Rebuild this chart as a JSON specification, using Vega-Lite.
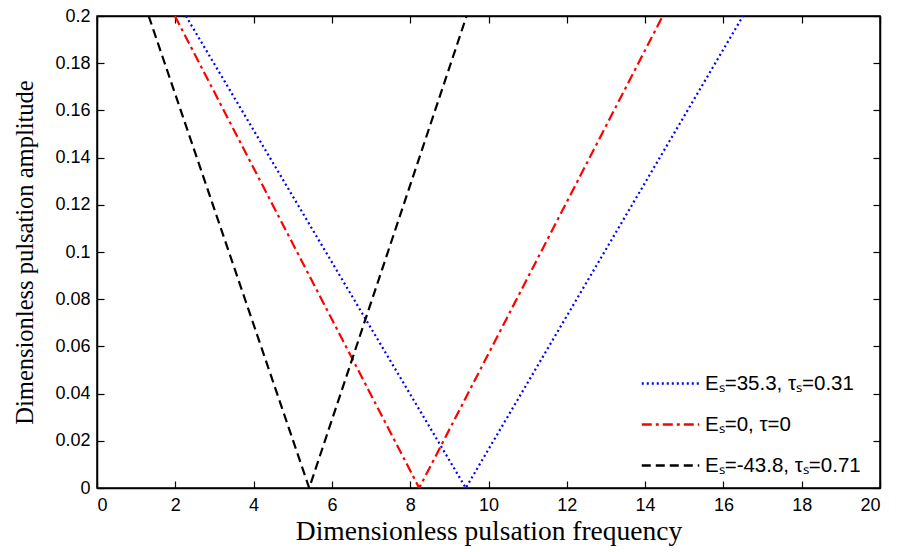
{
  "$schema": "https://vega.github.io/schema/vega-lite/v6.json",
  "width": 783,
  "height": 472,
  "autosize": {"type": "none"},
  "padding": {"left": 97, "top": 16, "right": 18, "bottom": 64},
  "background": "white",
  "config": {
    "view": {"stroke": "black", "strokeWidth": 1.5},
    "axis": {
      "grid": false,
      "domainColor": "black",
      "domainWidth": 1.5,
      "tickColor": "black",
      "tickWidth": 1.2,
      "tickSize": -7,
      "labelFont": "Liberation Sans",
      "labelFontSize": 18,
      "labelColor": "black",
      "titleFont": "Liberation Serif",
      "titleFontSize": 25,
      "titleFontWeight": "normal",
      "titleColor": "black"
    }
  },
  "data": {
    "values": [
      {"series": "blue", "x": 2.27, "y": 0.2},
      {"series": "blue", "x": 9.42, "y": 0},
      {"series": "blue", "x": 16.5, "y": 0.2},
      {"series": "red", "x": 1.99, "y": 0.2},
      {"series": "red", "x": 8.23, "y": 0},
      {"series": "red", "x": 14.45, "y": 0.2},
      {"series": "black", "x": 1.32, "y": 0.2},
      {"series": "black", "x": 5.42, "y": 0},
      {"series": "black", "x": 9.44, "y": 0.2}
    ]
  },
  "layer": [
    {
      "mark": {"type": "line", "strokeWidth": 2.2, "clip": true},
      "encoding": {
        "x": {
          "field": "x", "type": "quantitative",
          "scale": {"domain": [0, 20], "nice": false},
          "axis": {"orient": "bottom", "values": [0,2,4,6,8,10,12,14,16,18,20], "title": "Dimensionless pulsation frequency", "titleFontSize": 27.5, "labelPadding": 15, "titlePadding": 3}
        },
        "y": {
          "field": "y", "type": "quantitative",
          "scale": {"domain": [0, 0.2], "nice": false},
          "axis": {"orient": "left", "values": [0,0.02,0.04,0.06,0.08,0.1,0.12,0.14,0.16,0.18,0.2], "format": "~g", "title": "Dimensionless pulsation amplitude", "titleFontSize": 24.5, "labelPadding": 14, "titlePadding": 17}
        },
        "color": {
          "field": "series", "type": "nominal",
          "scale": {"domain": ["blue", "red", "black"], "range": ["#0000ff", "#ff0000", "#000000"]},
          "legend": {
            "orient": "none",
            "legendX": 543,
            "legendY": 337,
            "title": null,
            "symbolType": "stroke",
            "symbolSize": 3300,
            "symbolStrokeWidth": 2.6,
            "labelFont": "Liberation Sans",
            "labelFontSize": 20.5,
            "labelColor": "black",
            "labelOffset": 4,
            "rowPadding": -2.5,
            "labelExpr": "datum.value == 'blue' ? 'Eₛ=35.3, τₛ=0.31' : datum.value == 'red' ? 'Eₛ=0, τ=0' : 'Eₛ=-43.8, τₛ=0.71'"
          }
        },
        "strokeDash": {
          "field": "series", "type": "nominal",
          "scale": {"domain": ["blue", "red", "black"], "range": [[2, 3], [10, 4, 3, 4], [9, 5]]},
          "legend": null
        }
      }
    },
    {
      "mark": {"type": "line", "strokeOpacity": 0},
      "encoding": {
        "x": {"field": "x", "type": "quantitative", "axis": {"orient": "top", "values": [0,2,4,6,8,10,12,14,16,18,20], "labels": false, "title": null}},
        "y": {"field": "y", "type": "quantitative", "axis": {"orient": "right", "values": [0,0.02,0.04,0.06,0.08,0.1,0.12,0.14,0.16,0.18,0.2], "labels": false, "title": null}},
        "detail": {"field": "series"}
      }
    }
  ]
}
